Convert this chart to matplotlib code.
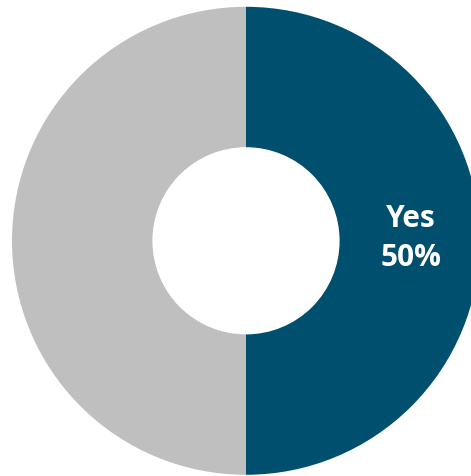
import numpy as np
import matplotlib
matplotlib.use("Agg")
import matplotlib.pyplot as plt

categories = ["Yes", "No"]
values = [50, 50]
colors = ["#004F6E", "#BFBFBF"]

W, H = 471, 476
fig = plt.figure(figsize=(W / 100, H / 100), dpi=100)
ax = fig.add_axes([0, 0, 1, 1])

cx, cy, R = 246, H - 240.8, 234
wedges, _ = ax.pie(values, colors=colors, startangle=90, counterclock=False,
                   radius=R, center=(cx, cy),
                   wedgeprops=dict(width=R * 0.6, linewidth=0))
ax.set_xlim(0, W)
ax.set_ylim(0, H)
ax.set_aspect("equal")
ax.axis("off")

total = sum(values)
w = wedges[0]
ang = np.deg2rad((w.theta1 + w.theta2) / 2)
r = R * 0.705
ax.text(cx + r * np.cos(ang), cy + r * np.sin(ang) + 2,
        f"{categories[0]}\n{values[0] / total:.0%}",
        ha="center", va="center", color="white", fontsize=21.5,
        fontweight="bold", family=["Open Sans", "DejaVu Sans"], linespacing=1.38)

fig.savefig("out.png", dpi=100)
